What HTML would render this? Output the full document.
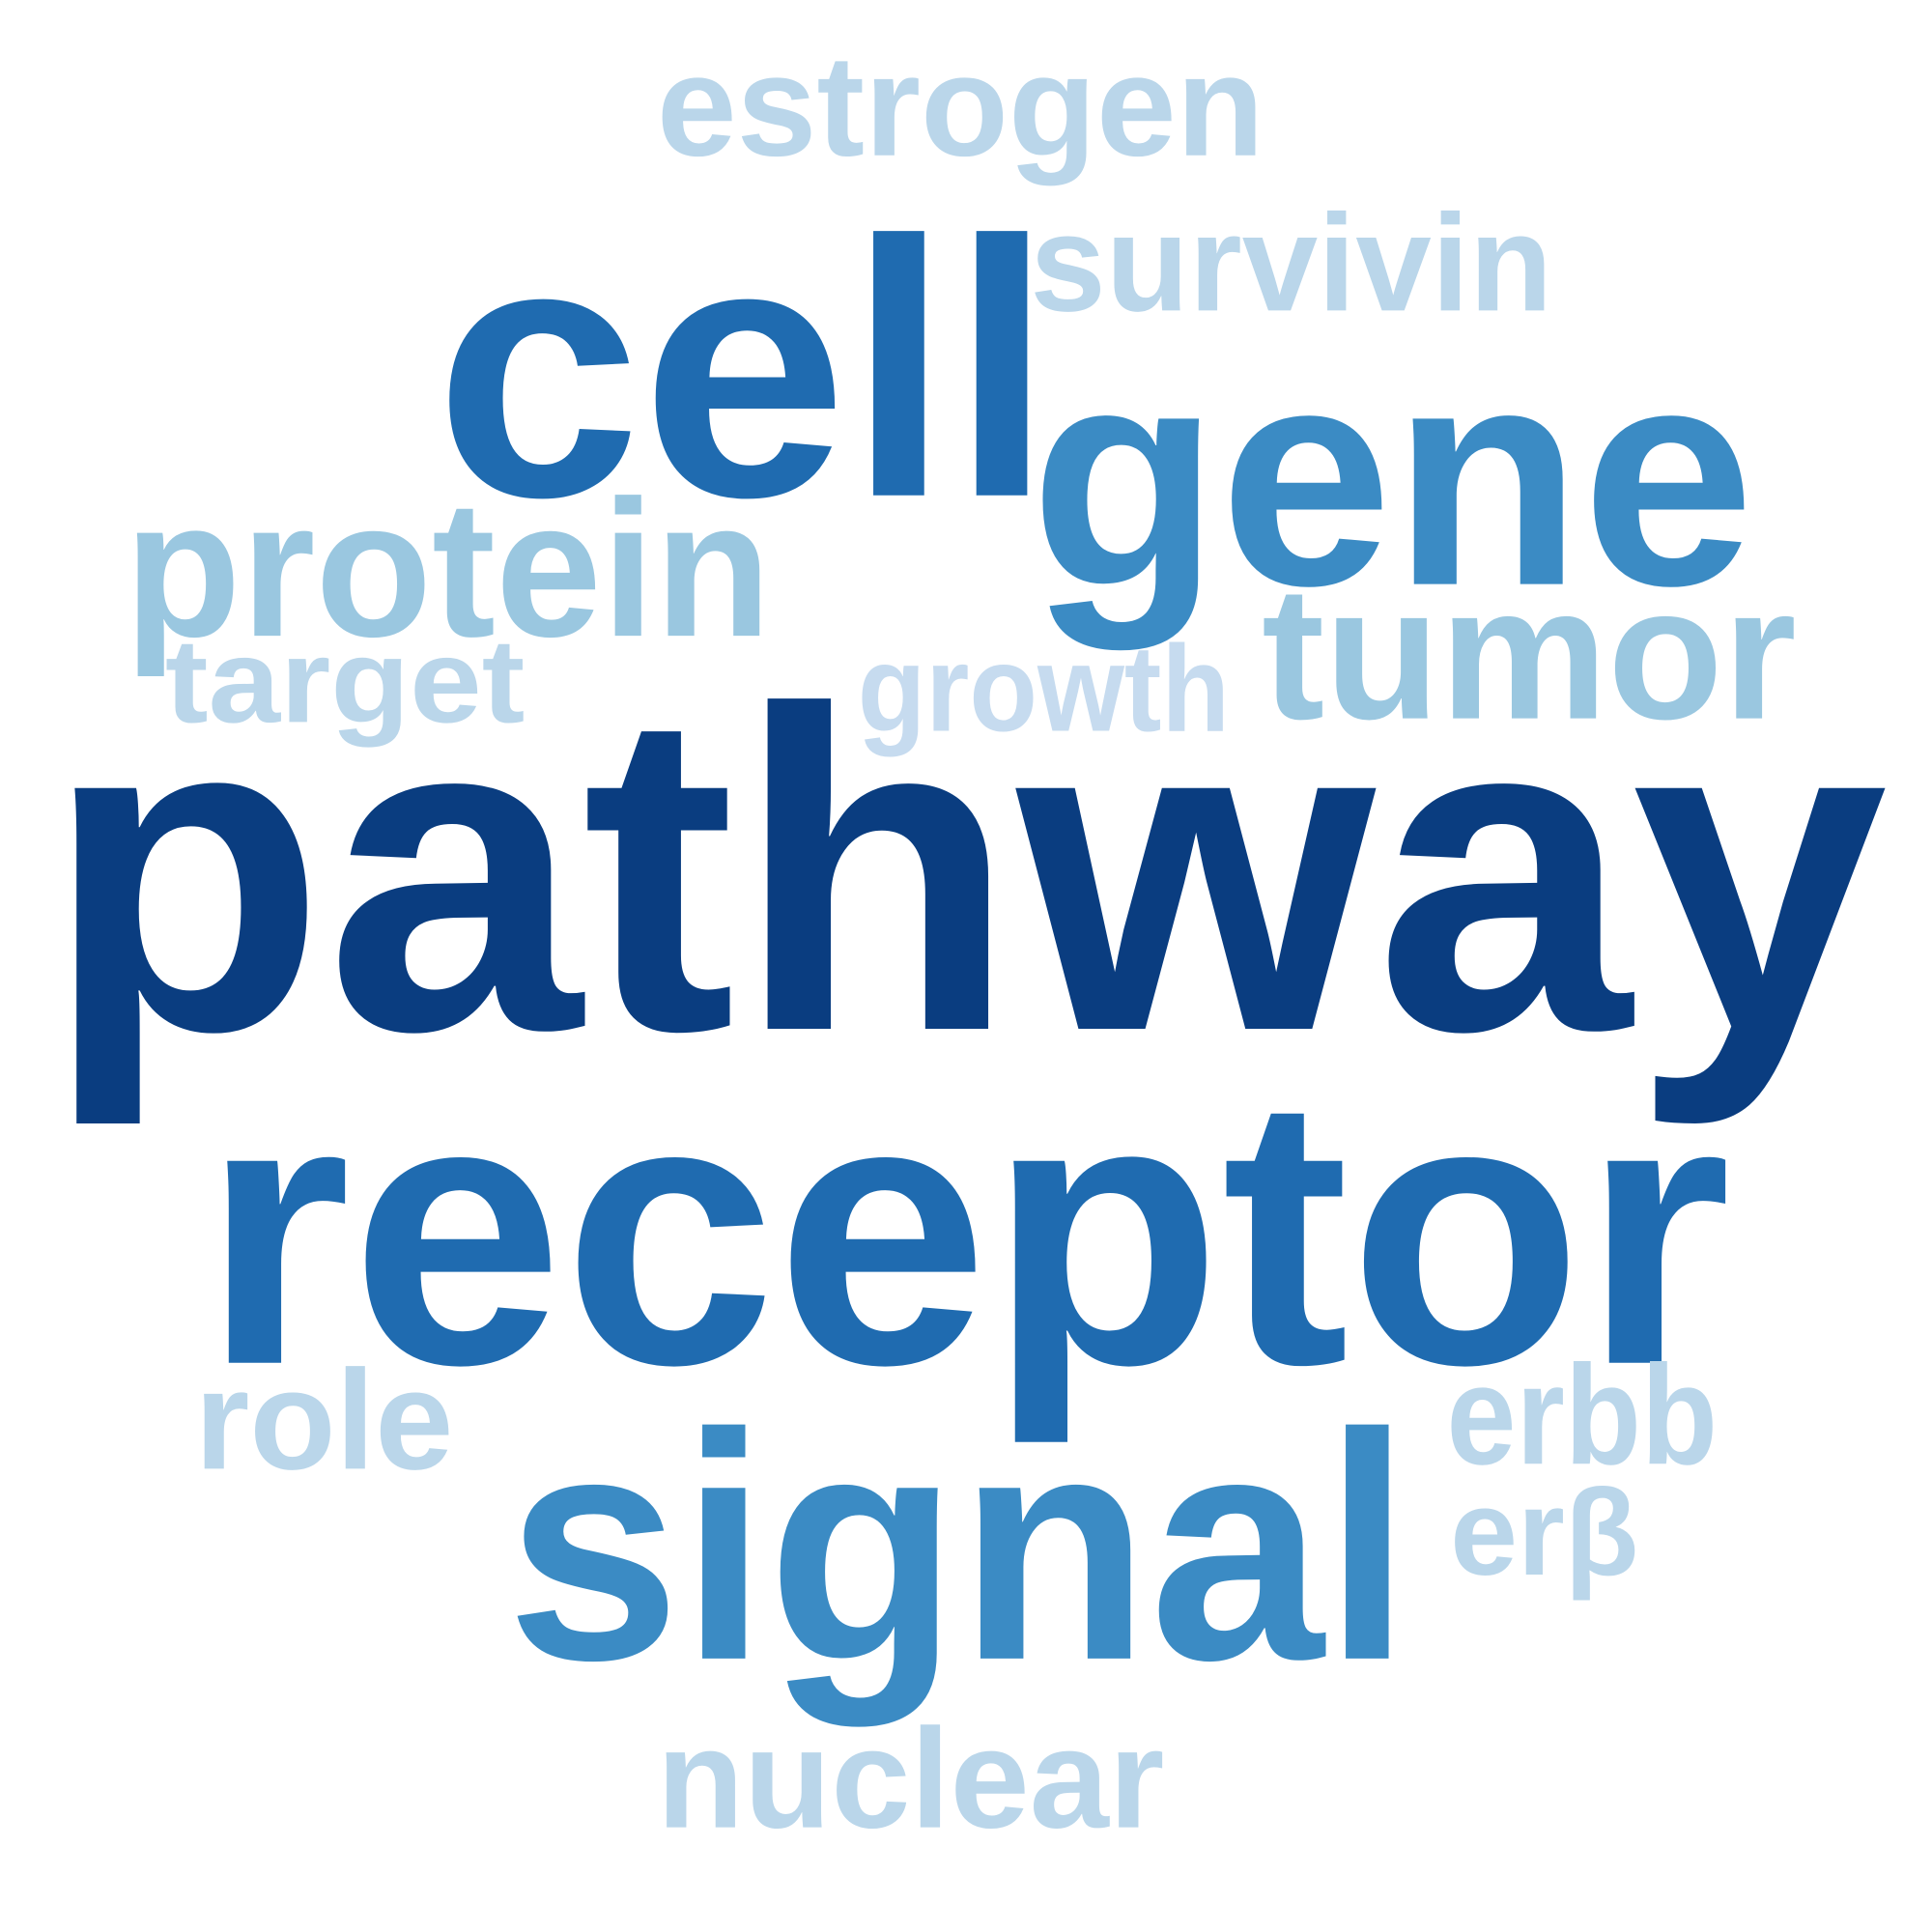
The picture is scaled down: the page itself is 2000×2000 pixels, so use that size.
<!DOCTYPE html>
<html><head><meta charset="utf-8"><style>
html,body{margin:0;padding:0;background:#fff;}
svg{display:block;}
text{font-family:"Liberation Sans",Arial,sans-serif;font-weight:bold;}
</style></head><body>
<svg width="2000" height="2000" viewBox="0 0 1568 1568" xmlns="http://www.w3.org/2000/svg">
<rect width="1568" height="1568" fill="#fff"/>
<text x="533" y="126" font-size="117" fill="#bad6ea" textLength="493" lengthAdjust="spacingAndGlyphs">estrogen</text>
<text x="836" y="252" font-size="112" fill="#bad6ea" textLength="424" lengthAdjust="spacingAndGlyphs">survivin</text>
<text x="353" y="402" font-size="296" fill="#1f6bb0" textLength="502" lengthAdjust="spacingAndGlyphs">cell</text>
<text x="836" y="474" font-size="254" fill="#3b8bc4" textLength="588" lengthAdjust="spacingAndGlyphs">gene</text>
<text x="101" y="516" font-size="158" fill="#9ac7e0" textLength="525" lengthAdjust="spacingAndGlyphs">protein</text>
<text x="134" y="586" font-size="97" fill="#bad6ea" textLength="292" lengthAdjust="spacingAndGlyphs">target</text>
<text x="696" y="593" font-size="100" fill="#c6dbef" textLength="302" lengthAdjust="spacingAndGlyphs">growth</text>
<text x="1024" y="583" font-size="154" fill="#9ac7e0" textLength="434" lengthAdjust="spacingAndGlyphs">tumor</text>
<text x="36" y="835" font-size="370" fill="#0a3d80" textLength="1496" lengthAdjust="spacingAndGlyphs">pathway</text>
<text x="164" y="1106" font-size="310" fill="#1f6bb0" textLength="1241" lengthAdjust="spacingAndGlyphs">receptor</text>
<text x="158" y="1192" font-size="115" fill="#bad6ea" textLength="210" lengthAdjust="spacingAndGlyphs">role</text>
<text x="1174" y="1188" font-size="115" fill="#bad6ea" textLength="220" lengthAdjust="spacingAndGlyphs">erbb</text>
<text x="1177" y="1278" font-size="100" fill="#bad6ea" textLength="153" lengthAdjust="spacingAndGlyphs">erβ</text>
<text x="411" y="1346" font-size="262" fill="#3b8bc4" textLength="734" lengthAdjust="spacingAndGlyphs">signal</text>
<text x="533" y="1483" font-size="115" fill="#bad6ea" textLength="412" lengthAdjust="spacingAndGlyphs">nuclear</text>
</svg>
</body></html>
